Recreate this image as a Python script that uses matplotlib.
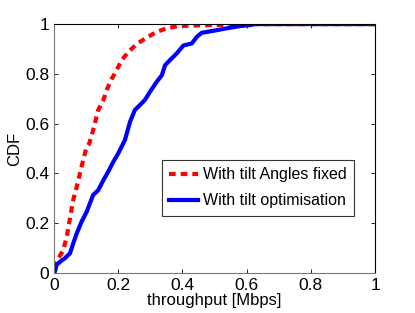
import matplotlib
matplotlib.use("Agg")
import matplotlib.pyplot as plt

plt.rcParams["font.family"] = ["Liberation Sans", "DejaVu Sans"]

# CDF of throughput
fixed_x = [0.0, 0.008, 0.029, 0.04, 0.05, 0.06, 0.071, 0.081, 0.091, 0.102, 0.11,
           0.122, 0.138, 0.154, 0.164, 0.18, 0.195, 0.211, 0.232, 0.258, 0.289,
           0.32, 0.351, 0.387, 0.45, 0.52, 0.59, 0.62, 1.0]
fixed_y = [0.02, 0.045, 0.092, 0.146, 0.22, 0.293, 0.347, 0.40, 0.454, 0.507, 0.52,
           0.574, 0.655, 0.695, 0.735, 0.78, 0.815, 0.855, 0.889, 0.92, 0.946,
           0.969, 0.983, 0.992, 0.995, 0.997, 0.998, 1.0, 1.0]

opt_x = [0.0, 0.003, 0.008, 0.019, 0.034, 0.05, 0.06, 0.071, 0.086, 0.102, 0.112,
         0.122, 0.138, 0.154, 0.169, 0.185, 0.2, 0.221, 0.237, 0.252, 0.268,
         0.283, 0.299, 0.32, 0.336, 0.346, 0.361, 0.382, 0.403, 0.429, 0.445,
         0.46, 0.496, 0.538, 0.579, 0.61, 0.625, 1.0]
opt_y = [0.0, 0.005, 0.032, 0.045, 0.059, 0.079, 0.119, 0.159, 0.206, 0.246, 0.28,
         0.313, 0.333, 0.373, 0.407, 0.447, 0.48, 0.534, 0.608, 0.655, 0.675,
         0.695, 0.728, 0.768, 0.795, 0.835, 0.855, 0.882, 0.914, 0.922, 0.949,
         0.965, 0.973, 0.983, 0.992, 0.996, 1.0, 1.0]

fig = plt.figure(figsize=(4.15, 3.13), dpi=100)
ax = fig.add_axes([0.130, 0.128, 0.774, 0.795])

ax.plot(fixed_x, fixed_y, color="red", linestyle=(0, (1.6, 1.2)), linewidth=3,
        label="With tilt Angles fixed")
ax.plot(opt_x, opt_y, color="blue", linewidth=3, label="With tilt optimisation")

ax.set_xlim(0, 1)
ax.set_ylim(0, 1)
ax.set_xticks([0, 0.2, 0.4, 0.6, 0.8, 1])
ax.set_xticklabels(["0", "0.2", "0.4", "0.6", "0.8", "1"])
ax.set_yticks([0, 0.2, 0.4, 0.6, 0.8, 1])
ax.set_yticklabels(["0", "0.2", "0.4", "0.6", "0.8", "1"])
ax.tick_params(direction="in", top=True, right=True, length=3, labelsize=12.5,
               width=0.6)
for s in ax.spines.values():
    s.set_linewidth(0.8)
ax.spines["left"].set_color("#777777")
ax.spines["bottom"].set_color("#777777")

ax.set_xlabel("throughput [Mbps]", fontsize=12, labelpad=0)
ax.set_ylabel("CDF", fontsize=12, labelpad=2)

leg = ax.legend(loc="upper left", bbox_to_anchor=(0.336, 0.454), fontsize=11.5,
                frameon=True, fancybox=False, handlelength=1.8, borderpad=0.45,
                labelspacing=0.7, handletextpad=0.35, borderaxespad=0)
leg.get_frame().set_edgecolor("black")
leg.get_frame().set_linewidth(0.8)

fig.savefig("out.png", dpi=100)
